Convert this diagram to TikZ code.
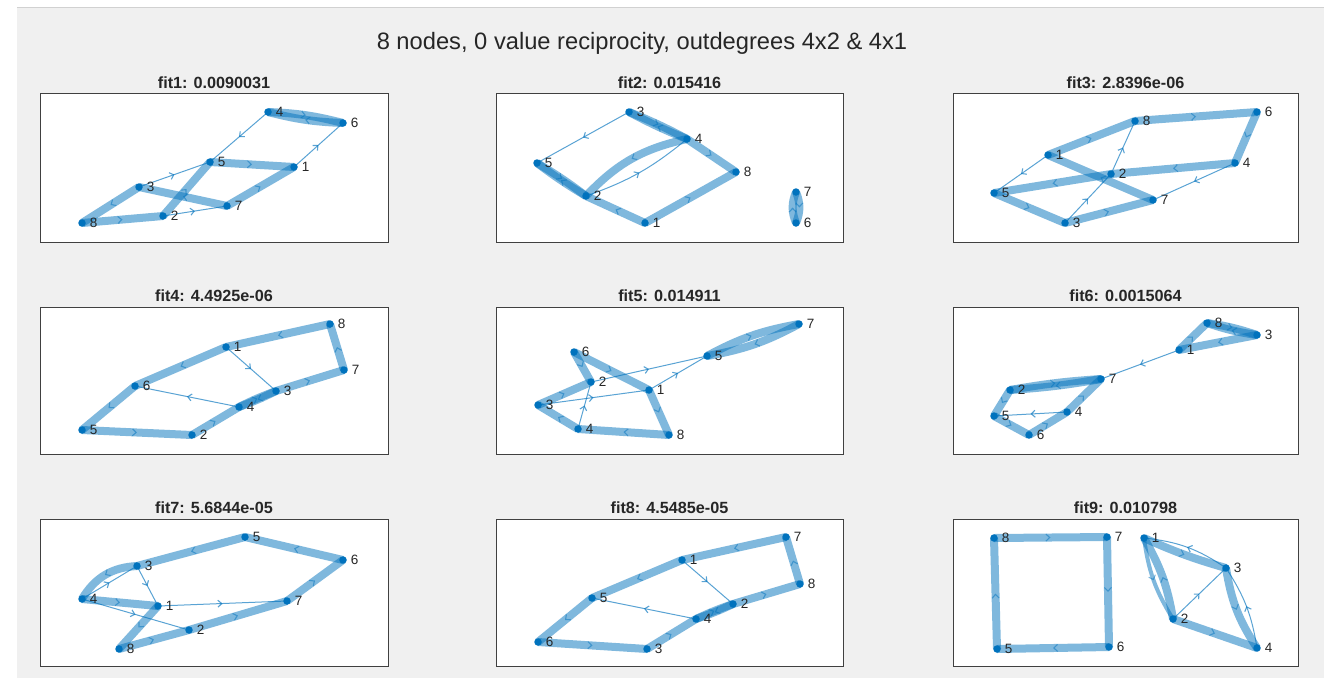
\documentclass[tikz,border=0pt]{standalone}
\usepackage{fontspec}
\setmainfont{Liberation Sans}
\usetikzlibrary{arrows.meta,decorations.markings,backgrounds}

\definecolor{mblue}{RGB}{0,114,189}
\definecolor{figgray}{RGB}{240,240,240}

\tikzset{
  vtx/.style={circle,fill=mblue,inner sep=0pt,minimum size=7.5pt},
  lbl/.style={font=\fontsize{13.5}{16}\selectfont,text=black!85,inner sep=3.6pt},
  mid arrow/.style={postaction={decorate},
    decoration={markings,mark=at position 0.5 with {\arrow{Straight Barb[length=3.8pt,width=7pt,line width=1.1pt]}}}},
  heavyedge/.style={draw=mblue,draw opacity=0.5,line width=8pt,mid arrow},
  midedge/.style={draw=mblue,draw opacity=0.5,line width=4pt,mid arrow},
  lightedge/.style={draw=mblue,draw opacity=0.65,line width=1pt,mid arrow},
  fitbox/.style={draw=black!75,line width=0.9pt,fill=white},
  fittitle/.style={anchor=base,font=\fontsize{16.2}{19}\selectfont\bfseries,text=black!85},
}

\begin{document}
\begin{tikzpicture}[x=1pt,y=-1pt]
  \useasboundingbox (0,0) rectangle (1324,678);
  \begin{scope}[on background layer]
    \fill[white] (0,0) rectangle (1324,678);
    \fill[figgray] (17,7) rectangle (1324,678);
    \draw[black!18,line width=1pt] (17,7) -- (1324,7);
  \end{scope}

  \node[anchor=base,font=\fontsize{23.7}{28}\selectfont,text=black!85] (title) at (642,49)
    {8 nodes, 0 value reciprocity, outdegrees 4x2 \& 4x1};

  % fit1
  \node[fittitle] (t1) at (214,88) {fit1: 0.0090031};
  \begin{scope}[name prefix=a-]
    \node[vtx,label={[lbl]right:1}] (1) at (294,167) {};
    \node[vtx,label={[lbl]right:2}] (2) at (163,216) {};
    \node[vtx,label={[lbl]right:3}] (3) at (139,187) {};
    \node[vtx,label={[lbl]right:4}] (4) at (268,112) {};
    \node[vtx,label={[lbl]right:5}] (5) at (210,162) {};
    \node[vtx,label={[lbl]right:6}] (6) at (343,123) {};
    \node[vtx,label={[lbl]right:7}] (7) at (227,206) {};
    \node[vtx,label={[lbl]right:8}] (8) at (82,223) {};
    \begin{scope}[on background layer]
      \draw[fitbox] (40,93) rectangle (388,242);
      \draw[heavyedge] (4.center) to[bend left=6] (6.center);
      \draw[heavyedge] (6.center) to[bend left=6] (4.center);
      \draw[lightedge] (1.center) -- (6.center);
      \draw[lightedge] (4.center) -- (5.center);
      \draw[heavyedge] (5.center) -- (1.center);
      \draw[lightedge] (3.center) -- (5.center);
      \draw[heavyedge] (2.center) -- (5.center);
      \draw[heavyedge] (7.center) -- (3.center);
      \draw[heavyedge] (7.center) -- (1.center);
      \draw[lightedge] (2.center) -- (7.center);
      \draw[heavyedge] (8.center) -- (2.center);
      \draw[heavyedge] (3.center) -- (8.center);
    \end{scope}
  \end{scope}

  % fit2
  \node[fittitle] (t2) at (669.5,88) {fit2: 0.015416};
  \begin{scope}[name prefix=b-]
    \node[vtx,label={[lbl]right:1}] (1) at (645,223) {};
    \node[vtx,label={[lbl]right:2}] (2) at (586,196) {};
    \node[vtx,label={[lbl]right:3}] (3) at (629,112) {};
    \node[vtx,label={[lbl]right:4}] (4) at (687,139) {};
    \node[vtx,label={[lbl]right:5}] (5) at (537,163) {};
    \node[vtx,label={[lbl]right:6}] (6) at (796,223) {};
    \node[vtx,label={[lbl]right:7}] (7) at (796,192) {};
    \node[vtx,label={[lbl]right:8}] (8) at (736,172) {};
    \begin{scope}[on background layer]
      \draw[fitbox] (496,93) rectangle (843,242);
      \draw[heavyedge] (3.center) to[bend left=3] (4.center);
      \draw[heavyedge] (4.center) to[bend left=3] (3.center);
      \draw[heavyedge] (4.center) -- (8.center);
      \draw[lightedge] (3.center) -- (5.center);
      \draw[heavyedge] (5.center) to[bend left=3] (2.center);
      \draw[heavyedge] (2.center) to[bend left=3] (5.center);
      \draw[heavyedge] (4.center) to[bend right=17] (2.center);
      \draw[lightedge] (2.center) to[bend right=10] (4.center);
      \draw[heavyedge] (1.center) -- (2.center);
      \draw[heavyedge] (1.center) -- (8.center);
      \draw[heavyedge] (7.center) to[bend left=22] (6.center);
      \draw[heavyedge] (6.center) to[bend left=22] (7.center);
    \end{scope}
  \end{scope}

  % fit3
  \node[fittitle] (t3) at (1125.5,88) {fit3: 2.8396e-06};
  \begin{scope}[name prefix=c-]
    \node[vtx,label={[lbl]right:1}] (1) at (1048,155) {};
    \node[vtx,label={[lbl]right:2}] (2) at (1111,174) {};
    \node[vtx,label={[lbl]right:3}] (3) at (1065,223) {};
    \node[vtx,label={[lbl]right:4}] (4) at (1235,163) {};
    \node[vtx,label={[lbl]right:5}] (5) at (994,193) {};
    \node[vtx,label={[lbl]right:6}] (6) at (1257,112) {};
    \node[vtx,label={[lbl]right:7}] (7) at (1153,200) {};
    \node[vtx,label={[lbl]right:8}] (8) at (1135,121) {};
    \begin{scope}[on background layer]
      \draw[fitbox] (953,93) rectangle (1298,242);
      \draw[heavyedge] (1.center) -- (8.center);
      \draw[heavyedge] (8.center) -- (6.center);
      \draw[heavyedge] (6.center) -- (4.center);
      \draw[heavyedge] (4.center) -- (2.center);
      \draw[heavyedge] (2.center) -- (5.center);
      \draw[heavyedge] (5.center) -- (3.center);
      \draw[heavyedge] (3.center) -- (7.center);
      \draw[heavyedge] (7.center) -- (1.center);
      \draw[lightedge] (1.center) -- (5.center);
      \draw[lightedge] (3.center) -- (2.center);
      \draw[lightedge] (2.center) -- (8.center);
      \draw[lightedge] (4.center) -- (7.center);
    \end{scope}
  \end{scope}

  % fit4
  \node[fittitle] (t4) at (214,301) {fit4: 4.4925e-06};
  \begin{scope}[name prefix=d-]
    \node[vtx,label={[lbl]right:1}] (1) at (226,347) {};
    \node[vtx,label={[lbl]right:2}] (2) at (192,435) {};
    \node[vtx,label={[lbl]right:3}] (3) at (276,391) {};
    \node[vtx,label={[lbl]right:4}] (4) at (239,407) {};
    \node[vtx,label={[lbl]right:5}] (5) at (82,430) {};
    \node[vtx,label={[lbl]right:6}] (6) at (135,386) {};
    \node[vtx,label={[lbl]right:7}] (7) at (344,370) {};
    \node[vtx,label={[lbl]right:8}] (8) at (330,324) {};
    \begin{scope}[on background layer]
      \draw[fitbox] (40,307) rectangle (388,454);
      \draw[heavyedge] (8.center) -- (1.center);
      \draw[heavyedge] (1.center) -- (6.center);
      \draw[heavyedge] (6.center) -- (5.center);
      \draw[heavyedge] (5.center) -- (2.center);
      \draw[heavyedge] (2.center) -- (4.center);
      \draw[heavyedge] (4.center) to[bend left=3] (3.center);
      \draw[heavyedge] (3.center) to[bend left=3] (4.center);
      \draw[heavyedge] (3.center) -- (7.center);
      \draw[heavyedge] (7.center) -- (8.center);
      \draw[lightedge] (1.center) -- (3.center);
      \draw[lightedge] (4.center) -- (6.center);
    \end{scope}
  \end{scope}

  % fit5
  \node[fittitle] (t5) at (669.5,301) {fit5: 0.014911};
  \begin{scope}[name prefix=e-]
    \node[vtx,label={[lbl]right:1}] (1) at (649,390) {};
    \node[vtx,label={[lbl]right:2}] (2) at (591,382) {};
    \node[vtx,label={[lbl]right:3}] (3) at (538,405) {};
    \node[vtx,label={[lbl]right:4}] (4) at (578,429) {};
    \node[vtx,label={[lbl]right:5}] (5) at (707,356) {};
    \node[vtx,label={[lbl]right:6}] (6) at (574,352) {};
    \node[vtx,label={[lbl]right:7}] (7) at (799,324) {};
    \node[vtx,label={[lbl]right:8}] (8) at (669,435) {};
    \begin{scope}[on background layer]
      \draw[fitbox] (496,307) rectangle (843,454);
      \draw[heavyedge] (7.center) to[bend left=9] (5.center);
      \draw[heavyedge] (5.center) to[bend left=9] (7.center);
      \draw[heavyedge] (6.center) -- (1.center);
      \draw[heavyedge] (6.center) -- (2.center);
      \draw[lightedge] (2.center) -- (5.center);
      \draw[lightedge] (1.center) -- (5.center);
      \draw[heavyedge] (3.center) -- (2.center);
      \draw[lightedge] (3.center) -- (1.center);
      \draw[lightedge] (4.center) -- (2.center);
      \draw[heavyedge] (1.center) -- (8.center);
      \draw[heavyedge] (8.center) -- (4.center);
      \draw[heavyedge] (4.center) -- (3.center);
    \end{scope}
  \end{scope}

  % fit6
  \node[fittitle] (t6) at (1125.5,301) {fit6: 0.0015064};
  \begin{scope}[name prefix=f-]
    \node[vtx,label={[lbl]right:1}] (1) at (1179,350) {};
    \node[vtx,label={[lbl]right:2}] (2) at (1010,390) {};
    \node[vtx,label={[lbl]right:3}] (3) at (1257,335) {};
    \node[vtx,label={[lbl]right:4}] (4) at (1067,412) {};
    \node[vtx,label={[lbl]right:5}] (5) at (994,416) {};
    \node[vtx,label={[lbl]right:6}] (6) at (1029,435) {};
    \node[vtx,label={[lbl]right:7}] (7) at (1101,379) {};
    \node[vtx,label={[lbl]right:8}] (8) at (1207,323) {};
    \begin{scope}[on background layer]
      \draw[fitbox] (953,307) rectangle (1298,454);
      \draw[heavyedge] (8.center) to[bend left=5] (3.center);
      \draw[heavyedge] (3.center) to[bend left=5] (8.center);
      \draw[heavyedge] (1.center) -- (8.center);
      \draw[heavyedge] (3.center) -- (1.center);
      \draw[lightedge] (1.center) -- (7.center);
      \draw[heavyedge] (7.center) to[bend left=3] (2.center);
      \draw[heavyedge] (2.center) to[bend left=3] (7.center);
      \draw[heavyedge] (2.center) -- (5.center);
      \draw[heavyedge] (5.center) -- (6.center);
      \draw[heavyedge] (6.center) -- (4.center);
      \draw[heavyedge] (4.center) -- (7.center);
      \draw[lightedge] (4.center) -- (5.center);
    \end{scope}
  \end{scope}

  % fit7
  \node[fittitle] (t7) at (214,513) {fit7: 5.6844e-05};
  \begin{scope}[name prefix=g-]
    \node[vtx,label={[lbl]right:1}] (1) at (158,606) {};
    \node[vtx,label={[lbl]right:2}] (2) at (189,630) {};
    \node[vtx,label={[lbl]right:3}] (3) at (137,566) {};
    \node[vtx,label={[lbl]right:4}] (4) at (82,599) {};
    \node[vtx,label={[lbl]right:5}] (5) at (245,537) {};
    \node[vtx,label={[lbl]right:6}] (6) at (343,560) {};
    \node[vtx,label={[lbl]right:7}] (7) at (287,601) {};
    \node[vtx,label={[lbl]right:8}] (8) at (119,649) {};
    \begin{scope}[on background layer]
      \draw[fitbox] (40,519) rectangle (388,666);
      \draw[heavyedge] (5.center) -- (3.center);
      \draw[heavyedge] (6.center) -- (5.center);
      \draw[heavyedge] (7.center) -- (6.center);
      \draw[heavyedge] (2.center) -- (7.center);
      \draw[heavyedge] (8.center) -- (2.center);
      \draw[heavyedge] (1.center) -- (8.center);
      \draw[heavyedge] (4.center) -- (1.center);
      \draw[heavyedge] (3.center) to[bend right=28] (4.center);
      \draw[lightedge] (4.center) -- (3.center);
      \draw[lightedge] (3.center) -- (1.center);
      \draw[lightedge] (1.center) -- (7.center);
      \draw[lightedge] (4.center) -- (2.center);
    \end{scope}
  \end{scope}

  % fit8
  \node[fittitle] (t8) at (669.5,513) {fit8: 4.5485e-05};
  \begin{scope}[name prefix=h-]
    \node[vtx,label={[lbl]right:1}] (1) at (682,560) {};
    \node[vtx,label={[lbl]right:2}] (2) at (733,604) {};
    \node[vtx,label={[lbl]right:3}] (3) at (647,649) {};
    \node[vtx,label={[lbl]right:4}] (4) at (696,619) {};
    \node[vtx,label={[lbl]right:5}] (5) at (592,598) {};
    \node[vtx,label={[lbl]right:6}] (6) at (538,642) {};
    \node[vtx,label={[lbl]right:7}] (7) at (786,537) {};
    \node[vtx,label={[lbl]right:8}] (8) at (800,584) {};
    \begin{scope}[on background layer]
      \draw[fitbox] (496,519) rectangle (843,666);
      \draw[heavyedge] (7.center) -- (1.center);
      \draw[heavyedge] (1.center) -- (5.center);
      \draw[heavyedge] (5.center) -- (6.center);
      \draw[heavyedge] (6.center) -- (3.center);
      \draw[heavyedge] (3.center) -- (4.center);
      \draw[heavyedge] (4.center) to[bend left=3] (2.center);
      \draw[heavyedge] (2.center) to[bend left=3] (4.center);
      \draw[heavyedge] (2.center) -- (8.center);
      \draw[heavyedge] (8.center) -- (7.center);
      \draw[lightedge] (1.center) -- (2.center);
      \draw[lightedge] (4.center) -- (5.center);
    \end{scope}
  \end{scope}

  % fit9
  \node[fittitle] (t9) at (1125.5,513) {fit9: 0.010798};
  \begin{scope}[name prefix=i-]
    \node[vtx,label={[lbl]right:1}] (1) at (1144,538) {};
    \node[vtx,label={[lbl]right:2}] (2) at (1173,619) {};
    \node[vtx,label={[lbl]right:3}] (3) at (1226,568) {};
    \node[vtx,label={[lbl]right:4}] (4) at (1257,648) {};
    \node[vtx,label={[lbl]right:5}] (5) at (997,649) {};
    \node[vtx,label={[lbl]right:6}] (6) at (1109,647) {};
    \node[vtx,label={[lbl]right:7}] (7) at (1107,537) {};
    \node[vtx,label={[lbl]right:8}] (8) at (994,538) {};
    \begin{scope}[on background layer]
      \draw[fitbox] (953,519) rectangle (1298,666);
      \draw[heavyedge] (8.center) -- (7.center);
      \draw[heavyedge] (7.center) -- (6.center);
      \draw[heavyedge] (6.center) -- (5.center);
      \draw[heavyedge] (5.center) -- (8.center);
      \draw[heavyedge] (1.center) to[bend right=4] (3.center);
      \draw[lightedge] (3.center) to[bend right=14] (1.center);
      \draw[heavyedge] (2.center) to[bend right=10] (1.center);
      \draw[midedge] (1.center) to[bend right=12] (2.center);
      \draw[lightedge] (2.center) -- (3.center);
      \draw[heavyedge] (2.center) -- (4.center);
      \draw[heavyedge] (3.center) to[bend right=12] (4.center);
      \draw[lightedge] (4.center) to[bend right=12] (3.center);
    \end{scope}
  \end{scope}
\end{tikzpicture}
\end{document}
